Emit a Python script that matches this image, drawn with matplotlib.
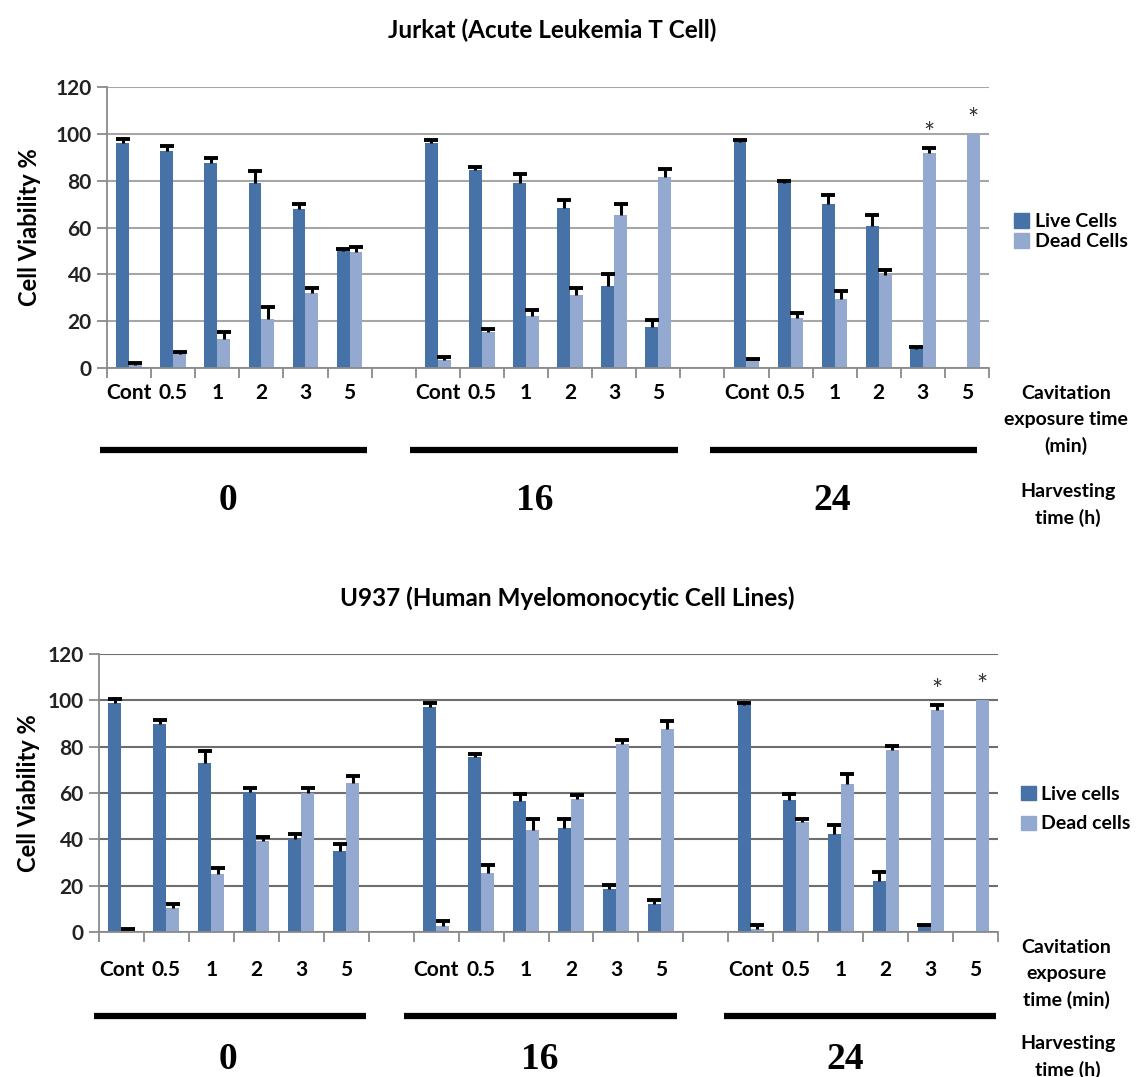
import numpy as np
import matplotlib.pyplot as plt
import matplotlib.transforms as mtransforms
from matplotlib.patches import Patch

# exposure times (min) inside each harvesting time group (h)
exposure = ['Cont', '0.5', '1', '2', '3', '5']
harvest = ['0', '16', '24']

# Jurkat, values in harvest order 0 / 16 / 24
jurkat_live = [96, 92.5, 87.5, 79, 68, 50,
               96, 84.5, 79, 68.5, 35, 17.5,
               96.5, 79, 70, 60.5, 8, 0]
jurkat_live_err = [2, 2.2, 2.3, 5, 2, 1,
                   1.5, 1.5, 4, 3.3, 5.3, 3,
                   1, 0.8, 4, 4.7, 1.1, 0]
jurkat_dead = [1.2, 6, 12.5, 21, 32, 49.5,
               3.6, 15.5, 22, 31, 65.5, 81.5,
               3.5, 21.5, 29.5, 39.7, 92, 100]
jurkat_dead_err = [1, 1, 3, 5, 2.3, 2.3,
                   1, 1.3, 2.8, 3.2, 4.7, 3.3,
                   0.4, 2.2, 3.5, 2.1, 1.9, 0]

# U937
u937_live = [99, 90, 73, 60.5, 40, 35,
             97, 75.5, 56.5, 45, 18.7, 12.3,
             98, 57, 42.3, 22, 2.8, 0]
u937_live_err = [1.5, 1.5, 5, 1.7, 2.2, 2.9,
                 1.7, 1.5, 3, 3.6, 1.8, 1.6,
                 1, 2.5, 4, 4, 0.3, 0]
u937_dead = [1.2, 10.2, 25.2, 39.3, 60, 64.5,
             2.8, 25.5, 44.2, 57.3, 81.3, 87.8,
             1.5, 47.5, 63.8, 78.5, 96, 100]
u937_dead_err = [0.3, 2, 2.6, 1.8, 2.2, 2.9,
                 2, 3.4, 4.5, 2, 1.6, 3.3,
                 1.5, 1.3, 4.2, 2, 1.8, 0]

# significant dead-cell bars: (harvest index, exposure index)
starred = [(2, 4), (2, 5)]

LIVE = '#4672a8'
DEAD = '#94a9d0'
SANS = ['Lato', 'DejaVu Sans']
NARROW = ['Liberation Sans Narrow', 'Lato', 'DejaVu Sans']
SERIF = ['Liberation Serif', 'DejaVu Serif']

W, H = 1138, 1077
fig = plt.figure(figsize=(W / 100, H / 100), dpi=100)


def px_rect(left, top, right, bottom):
    return [left / W, 1 - bottom / H, (right - left) / W, (bottom - top) / H]


def draw_panel(rect, live, live_err, dead, dead_err, grid_color, tick_pad,
               legend_labels, legend_anchor, legend_spacing,
               line_shift, line_y, group_x, group_y):
    ax = fig.add_axes(rect)
    n = len(exposure)
    pos = np.array([g * (n + 1) + i for g in range(len(harvest)) for i in range(n)])
    w = 0.29
    live = np.array(live, float)
    dead = np.array(dead, float)
    le = np.array(live_err, float)
    de = np.array(dead_err, float)

    ax.bar(pos - w / 2, live, w, color=LIVE, zorder=2)
    ax.bar(pos + w / 2, dead, w, color=DEAD, zorder=2)
    # upper error bars only
    for x, v, e in ((pos - w / 2, live, le), (pos + w / 2, dead, de)):
        m = e > 0
        ax.vlines(x[m], v[m], v[m] + e[m], color='black', lw=2.2, zorder=3)
        ax.plot(x[m], v[m] + e[m], ls='none', marker='_', ms=10, mew=2.8,
                color='black', zorder=3)

    for g, i in starred:
        k = g * n + i
        ax.text(pos[k] + w / 2, dead[k] + de[k] + 0.5, '*', ha='center', va='bottom',
                fontsize=19, color='#333333', family=SANS)

    ax.set_xlim(-0.5, len(harvest) * (n + 1) - 1.5)
    ax.set_ylim(0, 120)
    ax.set_yticks(range(0, 121, 20))
    ax.yaxis.grid(True, color=grid_color, linewidth=1.5, zorder=0)
    ax.set_axisbelow(True)
    for s in ('top', 'right'):
        ax.spines[s].set_visible(False)
    for s in ('left', 'bottom'):
        ax.spines[s].set_color('#8a8a8a')
        ax.spines[s].set_linewidth(1.3)

    ax.set_xticks(pos)
    ax.set_xticklabels(exposure * len(harvest))
    ax.set_xticks(np.arange(-0.5, len(harvest) * (n + 1) - 1, 1), minor=True)
    ax.tick_params(axis='x', which='major', length=0, pad=tick_pad)
    ax.tick_params(axis='x', which='minor', length=7, width=1.3, color='#8a8a8a')
    ax.tick_params(axis='y', length=7, width=1.3, color='#8a8a8a', pad=4)
    for t in ax.get_xticklabels():
        t.set_family(NARROW)
        t.set_fontsize(15)
        t.set_fontweight('bold')
    for t in ax.get_yticklabels():
        t.set_family(SANS)
        t.set_fontsize(15)
        t.set_fontweight('bold')
        t.set_color('#222222')

    handles = [Patch(color=LIVE), Patch(color=DEAD)]
    ax.legend(handles, legend_labels, loc='center left', bbox_to_anchor=legend_anchor,
              frameon=False, borderaxespad=0, handlelength=0.75, handleheight=0.75,
              handletextpad=0.3, labelspacing=legend_spacing,
              prop={'family': SANS, 'size': 14, 'weight': 'bold'})

    # black bars under each harvesting group and the group number
    tr = mtransforms.blended_transform_factory(ax.transData, ax.transAxes)
    for g, lab in enumerate(harvest):
        c = g * (n + 1) + (n - 1) / 2 + line_shift[g]
        ax.plot([c - 3.03, c + 3.03], [line_y, line_y], color='black', lw=4.5,
                solid_capstyle='butt', transform=tr, clip_on=False)
        ax.text(group_x[g], group_y, lab, transform=tr, ha='center', va='center',
                family=SERIF, fontsize=27, fontweight='bold')
    return ax


ax1 = draw_panel(px_rect(107, 87, 989, 368), jurkat_live, jurkat_live_err,
                 jurkat_dead, jurkat_dead_err, '#a6a6a6', 11,
                 ['Live Cells', 'Dead Cells'], (1.02, 0.485), 0.15,
                 [-0.14, -0.09, -0.3], -0.292, [2.24, 9.2, 15.94], -0.47)
ax1.set_ylabel('Cell Viability %', family=SANS, fontsize=17, fontweight='bold')
ax1.yaxis.set_label_coords(-0.075, 0.5)

ax2 = draw_panel(px_rect(99, 654, 998, 932), u937_live, u937_live_err,
                 u937_dead, u937_dead_err, '#6e6e6e', 20,
                 ['Live cells', 'Dead cells'], (1.017, 0.442), 0.65,
                 [-0.09, -0.18, -0.07], -0.302, [2.37, 9.31, 16.1], -0.46)
ax2.set_ylabel('Cell Viability %', family=SANS, fontsize=17, fontweight='bold')
ax2.yaxis.set_label_coords(-0.066, 0.5)

fig.text(552 / W, 1 - 30 / H, 'Jurkat (Acute Leukemia T Cell)', ha='center', va='center',
         family=SANS, fontsize=17.5, fontweight='bold')
fig.text(567 / W, 1 - 598 / H, 'U937 (Human Myelomonocytic Cell Lines)', ha='center',
         va='center', family=SANS, fontsize=17.5, fontweight='bold')

side = dict(ha='center', va='center', family=SANS, fontsize=14, fontweight='bold',
            linespacing=1.6)
fig.text(1066 / W, 1 - 420 / H, 'Cavitation\nexposure time\n(min)', **side)
fig.text(1068 / W, 1 - 505 / H, 'Harvesting\ntime (h)', **side)
fig.text(1066 / W, 1 - 974 / H, 'Cavitation\nexposure\ntime (min)', **side)
fig.text(1068 / W, 1 - 1057 / H, 'Harvesting\ntime (h)', **side)

fig.savefig('out.png', dpi=100, facecolor='white')
